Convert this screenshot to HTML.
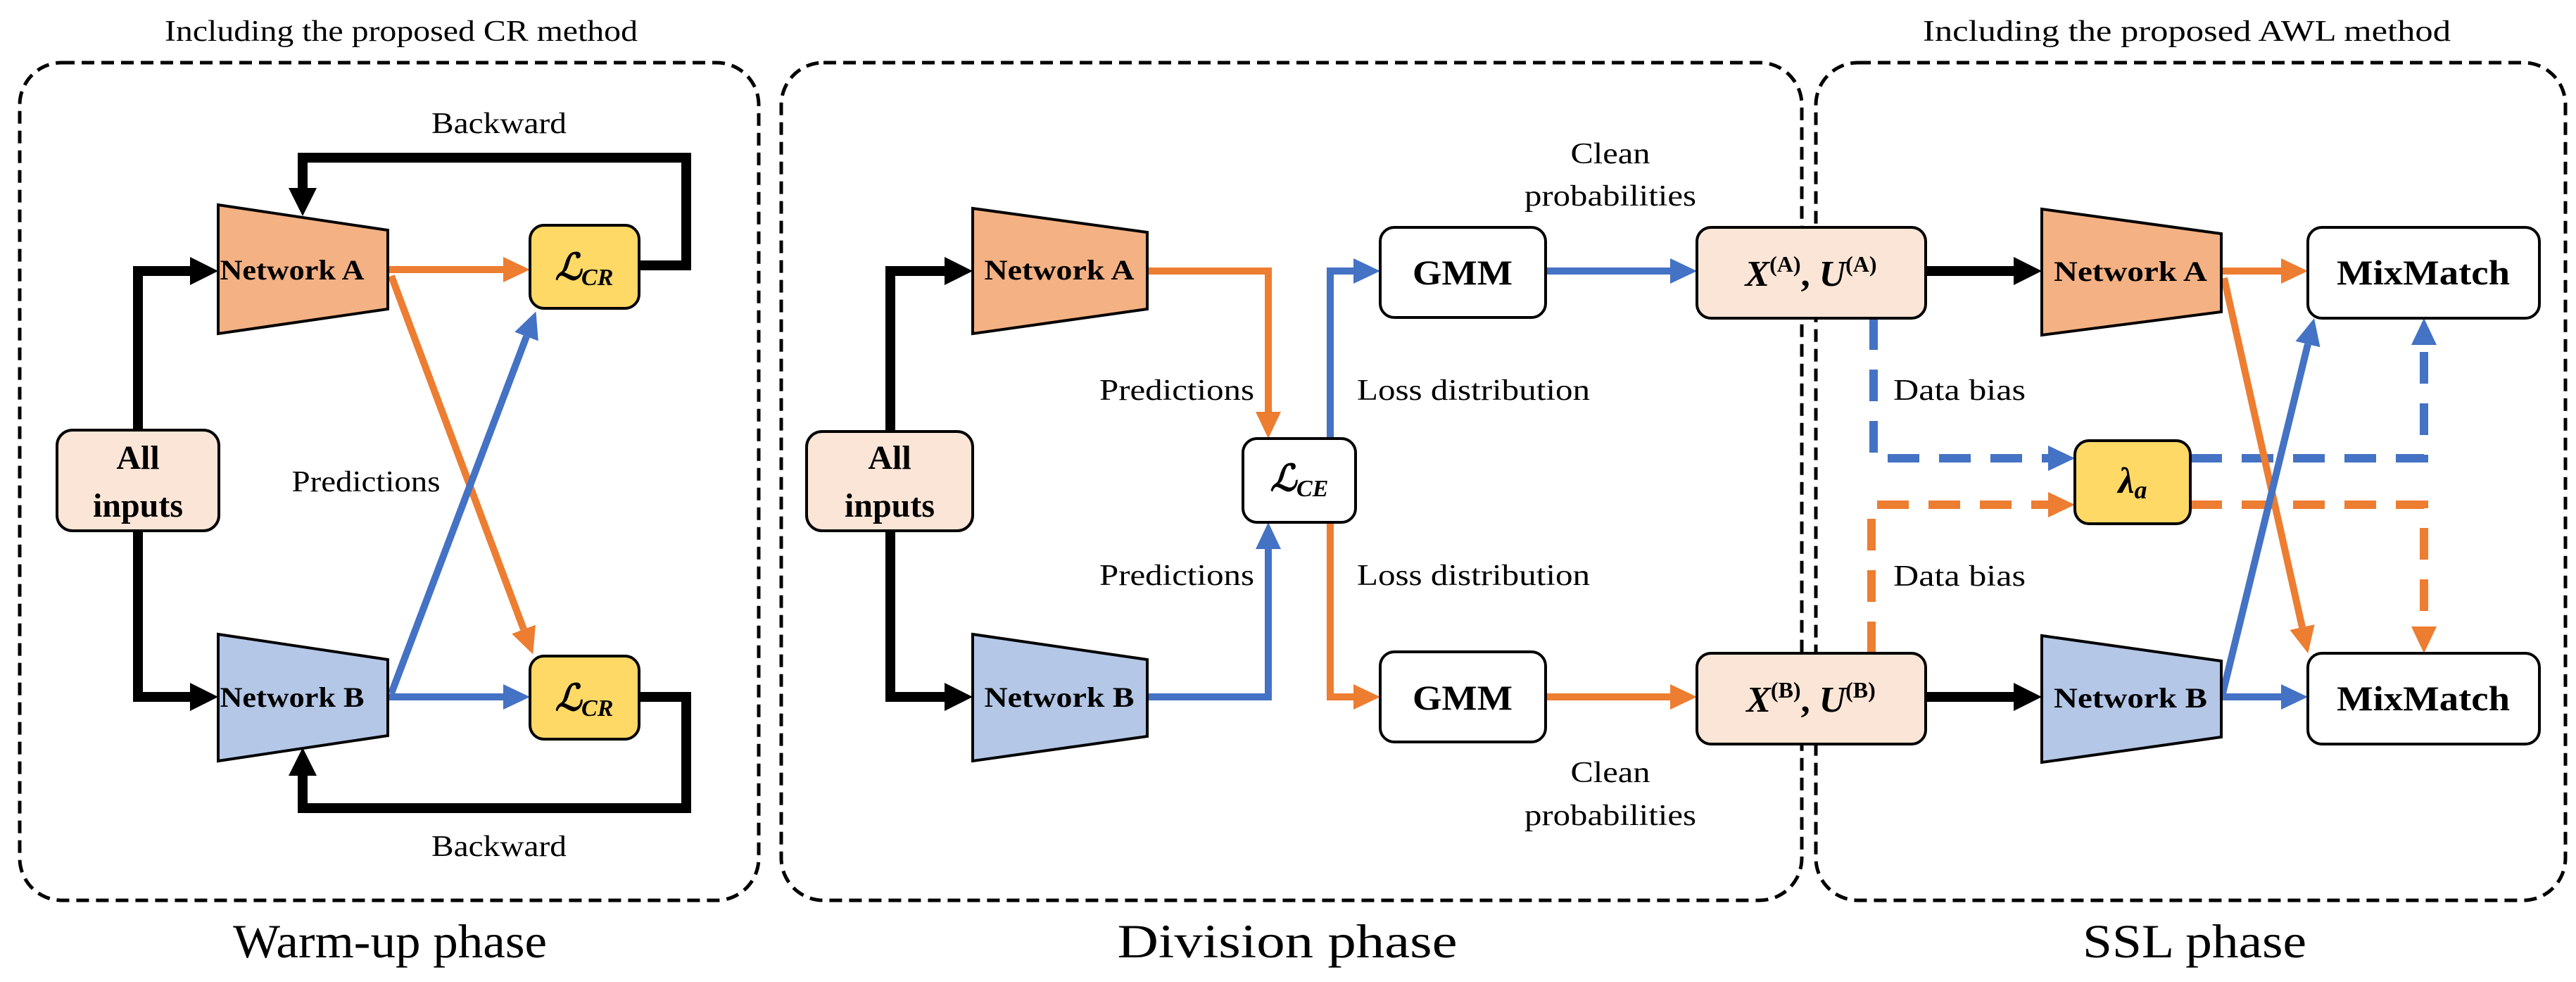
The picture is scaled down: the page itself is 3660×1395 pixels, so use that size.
<!DOCTYPE html>
<html><head><meta charset="utf-8"><style>
html,body{margin:0;padding:0;background:#fff;}
svg{display:block;font-family:"Liberation Serif","Times New Roman","DejaVu Serif",serif;}
text{font-family:"Liberation Serif","Times New Roman","DejaVu Serif",serif;fill:#000;}
.b{font-weight:bold;}
</style></head><body>
<svg width="3660" height="1395" viewBox="0 0 3660 1395" xmlns="http://www.w3.org/2000/svg" font-family="Liberation Serif, Times New Roman, serif">
<defs>
<marker id="mk" markerUnits="userSpaceOnUse" markerWidth="44" markerHeight="44" refX="0" refY="20" orient="auto"><path d="M0,0 L40,20 L0,40 z" fill="#000"/></marker>
<marker id="mo" markerUnits="userSpaceOnUse" markerWidth="44" markerHeight="44" refX="0" refY="18" orient="auto"><path d="M0,0 L38,18 L0,36 z" fill="#ED7D31"/></marker>
<marker id="mb" markerUnits="userSpaceOnUse" markerWidth="44" markerHeight="44" refX="0" refY="18" orient="auto"><path d="M0,0 L38,18 L0,36 z" fill="#4472C4"/></marker>
</defs>

<g fill="none" stroke="#000" stroke-width="5" stroke-dasharray="18 10">
<rect x="28" y="89" width="1050" height="1190" rx="60"/>
<rect x="1110" y="89" width="1450" height="1190" rx="60"/>
<rect x="2580" y="89" width="1065" height="1190" rx="60"/>
</g>

<!-- Panel 1 -->
<g fill="none" stroke="#000" stroke-width="14">
<path d="M196,611 V385 H270" marker-end="url(#mk)"/>
<path d="M196,754 V990 H270" marker-end="url(#mk)"/>
<path d="M908,377 H975 V224 H430 V267" marker-end="url(#mk)"/>
<path d="M908,990 H975 V1148 H430 V1102" marker-end="url(#mk)"/>
</g>
<g fill="none" stroke-width="10">
<path d="M553,383 H715" stroke="#ED7D31" marker-end="url(#mo)"/>
<path d="M556,392 L744,894" stroke="#ED7D31" marker-end="url(#mo)"/>
<path d="M553,990 H715" stroke="#4472C4" marker-end="url(#mb)"/>
<path d="M556,985 L748,478" stroke="#4472C4" marker-end="url(#mb)"/>
</g>
<g stroke="#000" stroke-width="4">
<polygon points="310,291 551,327 551,439 310,474" fill="#F4B183"/>
<polygon points="310,901 551,937 551,1045 310,1081" fill="#B4C7E7"/>
<rect x="81" y="611" width="230" height="143" rx="22" fill="#FBE5D6"/>
<rect x="753" y="320" width="155" height="118" rx="20" fill="#FFD966"/>
<rect x="753" y="932" width="155" height="118" rx="20" fill="#FFD966"/>
</g>

<!-- Panel 2 -->
<g fill="none" stroke="#000" stroke-width="14">
<path d="M1265,613 V385 H1342" marker-end="url(#mk)"/>
<path d="M1265,754 V990 H1342" marker-end="url(#mk)"/>
</g>
<g fill="none" stroke-width="10">
<path d="M1630,385 H1802 V585" stroke="#ED7D31" marker-end="url(#mo)"/>
<path d="M1630,990 H1802 V780" stroke="#4472C4" marker-end="url(#mb)"/>
<path d="M1890,623 V385 H1923" stroke="#4472C4" marker-end="url(#mb)"/>
<path d="M1890,742 V990 H1923" stroke="#ED7D31" marker-end="url(#mo)"/>
<path d="M2196,385 H2373" stroke="#4472C4" marker-end="url(#mb)"/>
<path d="M2196,990 H2373" stroke="#ED7D31" marker-end="url(#mo)"/>
</g>
<g stroke="#000" stroke-width="4">
<polygon points="1382,296 1630,330 1630,439 1382,474" fill="#F4B183"/>
<polygon points="1382,901 1630,937 1630,1046 1382,1081" fill="#B4C7E7"/>
<rect x="1146" y="613" width="236" height="141" rx="22" fill="#FBE5D6"/>
<rect x="1766" y="623" width="160" height="119" rx="20" fill="#fff"/>
<rect x="1961" y="323" width="235" height="128" rx="20" fill="#fff"/>
<rect x="1961" y="926" width="235" height="128" rx="20" fill="#fff"/>
</g>

<!-- Panel 3 -->
<g fill="none" stroke-width="12" stroke-dasharray="45 28">
<path d="M2662,452 V651 H2910" stroke="#4472C4" marker-end="url(#mb)"/>
<path d="M3112,651 H3444 V490" stroke="#4472C4" marker-end="url(#mb)"/>
<path d="M2659,928 V717 H2910" stroke="#ED7D31" marker-end="url(#mo)"/>
<path d="M3112,717 H3444 V890" stroke="#ED7D31" marker-end="url(#mo)"/>
</g>
<g fill="none" stroke="#000" stroke-width="14">
<path d="M2736,385 H2861" marker-end="url(#mk)"/>
<path d="M2736,990 H2861" marker-end="url(#mk)"/>
</g>
<g fill="none" stroke-width="10">
<path d="M3156,385 H3241" stroke="#ED7D31" marker-end="url(#mo)"/>
<path d="M3160,395 L3271,891" stroke="#ED7D31" marker-end="url(#mo)"/>
<path d="M3156,990 H3241" stroke="#4472C4" marker-end="url(#mb)"/>
<path d="M3158,985 L3279,489" stroke="#4472C4" marker-end="url(#mb)"/>
</g>
<g stroke="#000" stroke-width="4">
<rect x="2411" y="323" width="325" height="129" rx="20" fill="#FBE5D6"/>
<rect x="2411" y="928" width="325" height="129" rx="20" fill="#FBE5D6"/>
<polygon points="2901,297 3156,332 3156,443 2901,476" fill="#F4B183"/>
<polygon points="2901,903 3156,939 3156,1047 2901,1083" fill="#B4C7E7"/>
<rect x="3279" y="323" width="329" height="129" rx="20" fill="#fff"/>
<rect x="3279" y="928" width="329" height="129" rx="20" fill="#fff"/>
<rect x="2948" y="626" width="164" height="118" rx="20" fill="#FFD966"/>
</g>

<!-- Texts -->
<text x="570" y="58" font-size="42" text-anchor="middle" textLength="672" lengthAdjust="spacingAndGlyphs">Including the proposed CR method</text>
<text x="3107" y="58" font-size="42" text-anchor="middle" textLength="750" lengthAdjust="spacingAndGlyphs">Including the proposed AWL method</text>

<text x="709" y="189" font-size="42" text-anchor="middle" textLength="192" lengthAdjust="spacingAndGlyphs">Backward</text>
<text x="709" y="1216" font-size="42" text-anchor="middle" textLength="192" lengthAdjust="spacingAndGlyphs">Backward</text>
<text x="520" y="698" font-size="42" text-anchor="middle" textLength="211" lengthAdjust="spacingAndGlyphs">Predictions</text>

<text x="1672" y="568" font-size="42" text-anchor="middle" textLength="220" lengthAdjust="spacingAndGlyphs">Predictions</text>
<text x="1672" y="831" font-size="42" text-anchor="middle" textLength="220" lengthAdjust="spacingAndGlyphs">Predictions</text>
<text x="1928" y="568" font-size="42" textLength="331" lengthAdjust="spacingAndGlyphs">Loss distribution</text>
<text x="1928" y="831" font-size="42" textLength="331" lengthAdjust="spacingAndGlyphs">Loss distribution</text>
<text x="2288" y="232" font-size="42" text-anchor="middle" textLength="113" lengthAdjust="spacingAndGlyphs">Clean</text>
<text x="2288" y="292" font-size="42" text-anchor="middle" textLength="244" lengthAdjust="spacingAndGlyphs">probabilities</text>
<text x="2288" y="1111" font-size="42" text-anchor="middle" textLength="113" lengthAdjust="spacingAndGlyphs">Clean</text>
<text x="2288" y="1172" font-size="42" text-anchor="middle" textLength="244" lengthAdjust="spacingAndGlyphs">probabilities</text>

<text x="2690" y="568" font-size="42" textLength="188" lengthAdjust="spacingAndGlyphs">Data bias</text>
<text x="2690" y="832" font-size="42" textLength="188" lengthAdjust="spacingAndGlyphs">Data bias</text>

<text x="554" y="1360" font-size="68" text-anchor="middle" textLength="446" lengthAdjust="spacingAndGlyphs">Warm-up phase</text>
<text x="1829" y="1360" font-size="68" text-anchor="middle" textLength="483" lengthAdjust="spacingAndGlyphs">Division phase</text>
<text x="3118" y="1360" font-size="68" text-anchor="middle" textLength="318" lengthAdjust="spacingAndGlyphs">SSL phase</text>

<g font-size="40" text-anchor="middle">
<text class="b" x="415" y="397" textLength="205" lengthAdjust="spacingAndGlyphs">Network A</text>
<text class="b" x="415" y="1004" textLength="205" lengthAdjust="spacingAndGlyphs">Network B</text>
<text class="b" x="1505" y="397" textLength="213" lengthAdjust="spacingAndGlyphs">Network A</text>
<text class="b" x="1505" y="1004" textLength="213" lengthAdjust="spacingAndGlyphs">Network B</text>
<text class="b" x="3027" y="399" textLength="218" lengthAdjust="spacingAndGlyphs">Network A</text>
<text class="b" x="3027" y="1005" textLength="218" lengthAdjust="spacingAndGlyphs">Network B</text>
</g>
<text class="b" x="196" y="666" font-size="48" text-anchor="middle">All</text>
<text class="b" x="196" y="734" font-size="48" text-anchor="middle">inputs</text>
<text class="b" x="1264" y="666" font-size="48" text-anchor="middle">All</text>
<text class="b" x="1264" y="734" font-size="48" text-anchor="middle">inputs</text>
<text class="b" x="2078" y="404" font-size="50" text-anchor="middle" textLength="142" lengthAdjust="spacingAndGlyphs">GMM</text>
<text class="b" x="2078" y="1008" font-size="50" text-anchor="middle" textLength="142" lengthAdjust="spacingAndGlyphs">GMM</text>
<text class="b" x="3443" y="404" font-size="50" text-anchor="middle" textLength="246" lengthAdjust="spacingAndGlyphs">MixMatch</text>
<text class="b" x="3443" y="1009" font-size="50" text-anchor="middle" textLength="246" lengthAdjust="spacingAndGlyphs">MixMatch</text>

<text x="830" y="397" font-size="52" text-anchor="middle" font-weight="bold" font-style="italic">ℒ<tspan font-size="34" dy="8">CR</tspan></text>
<text x="830" y="1009" font-size="52" text-anchor="middle" font-weight="bold" font-style="italic">ℒ<tspan font-size="34" dy="8">CR</tspan></text>
<text x="1846" y="697" font-size="52" text-anchor="middle" font-weight="bold" font-style="italic">ℒ<tspan font-size="34" dy="8">CE</tspan></text>
<text x="3030" y="700" font-size="52" text-anchor="middle" font-weight="bold" font-style="italic">λ<tspan font-size="36" dy="8">a</tspan></text>
<text x="2573" y="406" font-size="52" text-anchor="middle" font-weight="bold"><tspan font-style="italic">X</tspan><tspan font-size="32" dy="-20">(A)</tspan><tspan dy="20">, </tspan><tspan font-style="italic">U</tspan><tspan font-size="32" dy="-20">(A)</tspan></text>
<text x="2573" y="1011" font-size="52" text-anchor="middle" font-weight="bold"><tspan font-style="italic">X</tspan><tspan font-size="32" dy="-20">(B)</tspan><tspan dy="20">, </tspan><tspan font-style="italic">U</tspan><tspan font-size="32" dy="-20">(B)</tspan></text>
</svg>
</body></html>
